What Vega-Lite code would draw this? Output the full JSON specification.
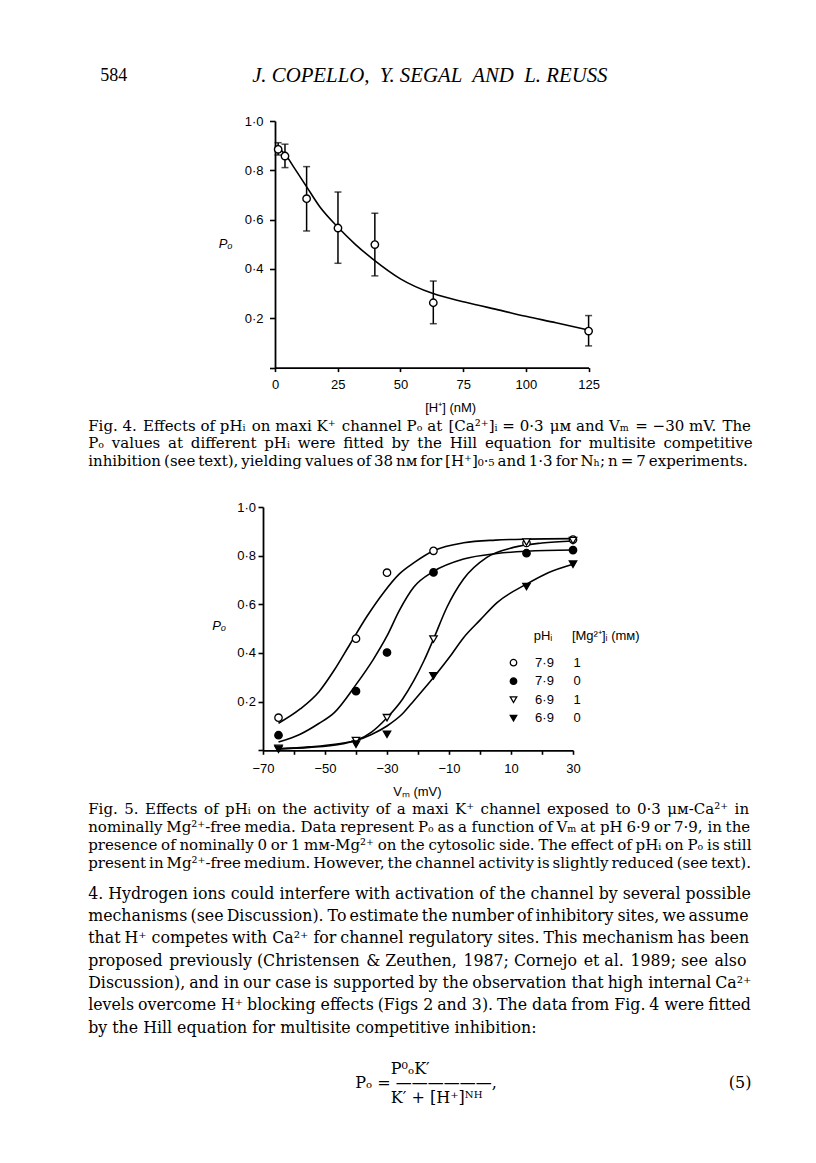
{
  "$schema": "https://vega.github.io/schema/vega-lite/v6.json",
  "background": "white",
  "padding": {"left": 88, "top": 64, "right": 5, "bottom": 5},
  "config": {
    "view": {"stroke": null},
    "axis": {"domainColor": "black", "domainWidth": 1.8, "tickColor": "black", "tickWidth": 1.6, "labelColor": "black", "labelFont": "Liberation Sans", "labelFontSize": 13, "titleFont": "Liberation Sans", "titleFontSize": 13, "titleFontWeight": "normal", "titleColor": "black", "grid": false, "labelOverlap": false, "labelFlush": false},
    "title": {"color": "black", "subtitleColor": "black", "fontWeight": "normal"}
  },
  "datasets": {
    "fig4pts": [
      {"H": 1.26, "Po": 0.885, "lo": 0.862, "hi": 0.912},
      {"H": 3.98, "Po": 0.858, "lo": 0.811, "hi": 0.906},
      {"H": 12.6, "Po": 0.685, "lo": 0.554, "hi": 0.815},
      {"H": 25.1, "Po": 0.566, "lo": 0.423, "hi": 0.712},
      {"H": 39.8, "Po": 0.499, "lo": 0.372, "hi": 0.626},
      {"H": 63.1, "Po": 0.263, "lo": 0.178, "hi": 0.351},
      {"H": 125, "Po": 0.148, "lo": 0.088, "hi": 0.211}
    ],
    "fig4curve": [
      {"H": 0, "Po": 0.9}, {"H": 2, "Po": 0.885}, {"H": 4, "Po": 0.865}, {"H": 8, "Po": 0.805},
      {"H": 12.5, "Po": 0.735}, {"H": 18, "Po": 0.65}, {"H": 25, "Po": 0.57}, {"H": 32, "Po": 0.5},
      {"H": 39, "Po": 0.44}, {"H": 50, "Po": 0.36}, {"H": 63, "Po": 0.3}, {"H": 76, "Po": 0.265},
      {"H": 90, "Po": 0.232}, {"H": 100, "Po": 0.208}, {"H": 112, "Po": 0.182}, {"H": 125, "Po": 0.152}
    ],
    "fig5pts": [
      {"grp": "7.9/1", "V": -65, "Po": 0.134}, {"grp": "7.9/1", "V": -40, "Po": 0.459}, {"grp": "7.9/1", "V": -30, "Po": 0.73},
      {"grp": "7.9/1", "V": -15, "Po": 0.82}, {"grp": "7.9/1", "V": 15, "Po": 0.852}, {"grp": "7.9/1", "V": 30, "Po": 0.866},
      {"grp": "7.9/0", "V": -65, "Po": 0.062}, {"grp": "7.9/0", "V": -40, "Po": 0.243}, {"grp": "7.9/0", "V": -30, "Po": 0.402},
      {"grp": "7.9/0", "V": -15, "Po": 0.731}, {"grp": "7.9/0", "V": 15, "Po": 0.81}, {"grp": "7.9/0", "V": 30, "Po": 0.823},
      {"grp": "6.9/1", "V": -65, "Po": 0.008}, {"grp": "6.9/1", "V": -40, "Po": 0.04}, {"grp": "6.9/1", "V": -30, "Po": 0.134},
      {"grp": "6.9/1", "V": -15, "Po": 0.457}, {"grp": "6.9/1", "V": 15, "Po": 0.856}, {"grp": "6.9/1", "V": 30, "Po": 0.862},
      {"grp": "6.9/0", "V": -65, "Po": 0.004}, {"grp": "6.9/0", "V": -40, "Po": 0.025}, {"grp": "6.9/0", "V": -30, "Po": 0.066},
      {"grp": "6.9/0", "V": -15, "Po": 0.306}, {"grp": "6.9/0", "V": 15, "Po": 0.673}, {"grp": "6.9/0", "V": 30, "Po": 0.765}
    ],
    "fig5curves": [
      {"grp": "7.9/1", "V": -65, "Po": 0.111}, {"grp": "7.9/1", "V": -58, "Po": 0.17}, {"grp": "7.9/1", "V": -52, "Po": 0.24},
      {"grp": "7.9/1", "V": -47, "Po": 0.33}, {"grp": "7.9/1", "V": -42, "Po": 0.435}, {"grp": "7.9/1", "V": -36.5, "Po": 0.55},
      {"grp": "7.9/1", "V": -31, "Po": 0.65}, {"grp": "7.9/1", "V": -26, "Po": 0.725}, {"grp": "7.9/1", "V": -21.4, "Po": 0.77},
      {"grp": "7.9/1", "V": -15, "Po": 0.82}, {"grp": "7.9/1", "V": -5.3, "Po": 0.853}, {"grp": "7.9/1", "V": 5, "Po": 0.864},
      {"grp": "7.9/1", "V": 15, "Po": 0.868}, {"grp": "7.9/1", "V": 30, "Po": 0.87},
      {"grp": "7.9/0", "V": -65, "Po": 0.034}, {"grp": "7.9/0", "V": -58, "Po": 0.066}, {"grp": "7.9/0", "V": -52, "Po": 0.11},
      {"grp": "7.9/0", "V": -47, "Po": 0.155}, {"grp": "7.9/0", "V": -40, "Po": 0.27}, {"grp": "7.9/0", "V": -34.4, "Po": 0.374},
      {"grp": "7.9/0", "V": -30, "Po": 0.47}, {"grp": "7.9/0", "V": -26, "Po": 0.575}, {"grp": "7.9/0", "V": -21.4, "Po": 0.67},
      {"grp": "7.9/0", "V": -15, "Po": 0.735}, {"grp": "7.9/0", "V": -5.3, "Po": 0.786}, {"grp": "7.9/0", "V": 5.5, "Po": 0.809},
      {"grp": "7.9/0", "V": 15, "Po": 0.818}, {"grp": "7.9/0", "V": 30, "Po": 0.823},
      {"grp": "6.9/1", "V": -65, "Po": 0.006}, {"grp": "6.9/1", "V": -55, "Po": 0.012}, {"grp": "6.9/1", "V": -45, "Po": 0.025},
      {"grp": "6.9/1", "V": -40, "Po": 0.04}, {"grp": "6.9/1", "V": -35, "Po": 0.075}, {"grp": "6.9/1", "V": -30, "Po": 0.134},
      {"grp": "6.9/1", "V": -25, "Po": 0.21}, {"grp": "6.9/1", "V": -21.4, "Po": 0.285}, {"grp": "6.9/1", "V": -18, "Po": 0.37},
      {"grp": "6.9/1", "V": -15, "Po": 0.457}, {"grp": "6.9/1", "V": -10.7, "Po": 0.587}, {"grp": "6.9/1", "V": -5.3, "Po": 0.704},
      {"grp": "6.9/1", "V": 2.2, "Po": 0.793}, {"grp": "6.9/1", "V": 10.8, "Po": 0.834}, {"grp": "6.9/1", "V": 20, "Po": 0.852},
      {"grp": "6.9/1", "V": 30, "Po": 0.86},
      {"grp": "6.9/0", "V": -65, "Po": 0.006}, {"grp": "6.9/0", "V": -55, "Po": 0.014}, {"grp": "6.9/0", "V": -45, "Po": 0.028},
      {"grp": "6.9/0", "V": -40, "Po": 0.04}, {"grp": "6.9/0", "V": -35, "Po": 0.065}, {"grp": "6.9/0", "V": -30, "Po": 0.1},
      {"grp": "6.9/0", "V": -25, "Po": 0.15}, {"grp": "6.9/0", "V": -21.4, "Po": 0.203}, {"grp": "6.9/0", "V": -15, "Po": 0.299},
      {"grp": "6.9/0", "V": -10, "Po": 0.38}, {"grp": "6.9/0", "V": -5.3, "Po": 0.463}, {"grp": "6.9/0", "V": 0, "Po": 0.535},
      {"grp": "6.9/0", "V": 5.5, "Po": 0.607}, {"grp": "6.9/0", "V": 15, "Po": 0.683}, {"grp": "6.9/0", "V": 22, "Po": 0.73},
      {"grp": "6.9/0", "V": 30, "Po": 0.765}
    ]
  },
  "spacing": 3,
  "resolve": {"legend": {"shape": "independent", "fill": "independent"}},
  "vconcat": [
    {
      "hconcat": [
        {
          "data": {"values": []},
          "mark": "point",
          "width": 1,
          "height": 1,
          "title": {"text": "584", "orient": "top", "anchor": "start", "frame": "group", "dx": -150.8, "offset": 35.7, "font": "Liberation Serif", "fontSize": 18, "fontWeight": "normal"}
        },
        {
          "width": 313.6,
          "height": 246.6,
          "title": {"text": "J. COPELLO,\u00a0 Y. SEGAL\u00a0 AND\u00a0 L. REUSS", "orient": "top", "anchor": "middle", "frame": "group", "dx": -2, "offset": 28.4, "font": "Liberation Serif", "fontSize": 20.8, "fontStyle": "italic", "fontWeight": "normal"},
          "encoding": {
            "x": {"field": "H", "type": "quantitative", "scale": {"domain": [0, 125], "nice": false},
              "axis": {"values": [0, 25, 50, 75, 100, 125], "format": "d", "title": "[H⁺] (nM)", "titleX": 175.2, "titleY": 40.2, "titleBaseline": "middle", "titleAlign": "center", "titleAngle": 0, "tickSize": 4, "labelPadding": 6.4}}
          },
          "layer": [
            {
              "data": {"name": "fig4curve"},
              "mark": {"type": "line", "color": "black", "strokeWidth": 1.6, "interpolate": "monotone"},
              "encoding": {
                "y": {"field": "Po", "type": "quantitative", "scale": {"domain": [0, 1], "nice": false},
                  "axis": {"values": [0, 0.1, 0.2, 0.3, 0.4, 0.5, 0.6, 0.7, 0.8, 0.9, 1], "labelExpr": "datum.value > 0.05 && round(datum.value * 10) % 2 == 0 ? replace(format(datum.value, '.1f'), '.', '·') : ''", "title": "Pₒ", "titleAngle": 0, "titleX": -49.8, "titleY": 122.8, "titleBaseline": "middle", "titleAlign": "center", "titleFontStyle": "italic", "tickSize": 5.5, "labelPadding": 6.5}}
              }
            },
            {
              "data": {"name": "fig4pts"},
              "mark": {"type": "rule", "color": "black", "strokeWidth": 1.5},
              "encoding": {
                "y": {"field": "lo", "type": "quantitative", "scale": {"domain": [0, 1], "nice": false}},
                "y2": {"field": "hi"}
              }
            },
            {
              "data": {"name": "fig4pts"},
              "mark": {"type": "tick", "orient": "horizontal", "color": "black", "size": 7, "thickness": 1.5},
              "encoding": {"y": {"field": "lo", "type": "quantitative", "scale": {"domain": [0, 1], "nice": false}}}
            },
            {
              "data": {"name": "fig4pts"},
              "mark": {"type": "tick", "orient": "horizontal", "color": "black", "size": 7, "thickness": 1.5},
              "encoding": {"y": {"field": "hi", "type": "quantitative", "scale": {"domain": [0, 1], "nice": false}}}
            },
            {
              "data": {"name": "fig4pts"},
              "mark": {"type": "point", "shape": "circle", "filled": true, "fill": "white", "stroke": "black", "strokeWidth": 1.4, "size": 55, "opacity": 1},
              "encoding": {"y": {"field": "Po", "type": "quantitative", "scale": {"domain": [0, 1], "nice": false}}}
            }
          ]
        }
      ],
      "spacing": 23,
      "bounds": "flush"
    },
    {
      "hconcat": [
        {
          "data": {"values": []},
          "mark": "point",
          "width": 1,
          "height": 1,
          "title": {
            "text": [
              "Fig. 4. \u200aEffects of pHᵢ \u200aon maxi K⁺ \u200achannel Pₒ at \u200a[Ca²⁺]ᵢ = 0·3 \u200aμᴍ and Vₘ \u200a= −30 mV. \u200aThe",
              "Pₒ \u2009values \u2009at \u2009different \u2009pHᵢ \u2009were \u2009fitted \u2009by \u2009the \u2009Hill \u2009equation \u2009for \u2009multisite \u2009competitive",
              "inhibition\u2009(see\u2009text),\u2009yielding\u2009values\u2009of\u200938\u2009nᴍ\u2009for\u2009[H⁺]₀·₅\u2009and\u20091·3\u2009for\u2009Nₕ;\u2009n\u2009=\u20097\u2009experiments."
            ],
            "orient": "top", "anchor": "start", "frame": "group", "dx": -162.8, "offset": 38.1, "font": "DejaVu Serif", "fontSize": 15, "lineHeight": 17.5, "fontWeight": "normal"
          }
        },
        {
          "width": 310,
          "height": 243.3,
          "title": {
            "text": [
              "Fig.\u2004\u200a5.\u2004\u200aEffects\u2004\u200aof\u2004\u200apHᵢ\u2004\u200aon\u2004\u200athe\u2004\u200aactivity\u2004\u200aof\u2004\u200aa\u2004\u200amaxi\u2004\u200aK⁺\u2004\u200achannel\u2004\u200aexposed\u2004\u200ato\u2004\u200a0·3\u2004\u200aμᴍ-Ca²⁺\u2004\u200ain",
              "nominally\u2005Mg²⁺-free\u2005media. Data\u2005represent\u2005Pₒ\u2005as\u2005a function\u2005of\u2005Vₘ\u2005at pH\u20056·9\u2005or\u20057·9, in\u2005the",
              "presence\u2005of\u2005nominally\u20050\u2005or\u20051\u2005mᴍ-Mg²⁺\u2005on\u2005the\u2005cytosolic\u2005side.\u2005The\u2005effect\u2005of\u2005pHᵢ\u2005on\u2005Pₒ\u2005is\u2005still",
              "present\u2009in\u2009Mg²⁺-free\u2009medium.\u2009However,\u2009the\u2009channel\u2009activity\u2009is\u2009slightly\u2009reduced\u2009(see\u2009text)."
            ],
            "subtitle": [
              "4. Hydrogen ions could interfere with activation of the channel by several possible",
              "mechanisms\u2009(see\u2009Discussion).\u2005To\u2009estimate\u2009the\u2005number\u2009of\u2009inhibitory\u2005sites,\u2009we\u2009assume",
              "that\u2005H⁺ competes\u2005with Ca²⁺ for\u2005channel regulatory sites.\u2005This mechanism\u2005has been",
              "proposed \u200apreviously (Christensen \u200a& Zeuthen, \u200a1987; Cornejo \u200aet al. \u200a1989; see \u200aalso",
              "Discussion),\u2005and in\u2005our case\u2005is supported\u2005by the\u2005observation that\u2005high internal\u2005Ca²⁺",
              "levels\u2005overcome H⁺\u2005blocking effects\u2005(Figs 2\u2005and 3).\u2005The data\u2005from Fig.\u20054 were\u2005fitted",
              "by the Hill equation for multisite competitive inhibition:"
            ],
            "orient": "bottom", "anchor": "start", "frame": "group", "dx": -174.8, "offset": 4.3,
            "font": "DejaVu Serif", "fontSize": 15, "lineHeight": 18, "fontWeight": "normal",
            "subtitleFont": "DejaVu Serif", "subtitleFontSize": 15.8, "subtitleLineHeight": 22.33, "subtitlePadding": 15.2
          },
          "encoding": {
            "x": {"field": "V", "type": "quantitative", "scale": {"domain": [-70, 30], "nice": false},
              "axis": {"values": [-70, -60, -50, -40, -30, -20, -10, 0, 10, 20, 30], "labelExpr": "(datum.value + 70) % 20 == 0 ? datum.label : ''", "title": "Vₘ (mV)", "titleX": 153.9, "titleY": 40.8, "titleBaseline": "middle", "titleAlign": "center", "titleAngle": 0, "tickSize": 4, "labelPadding": 8.6}}
          },
          "layer": [
            {
              "data": {"name": "fig5curves"},
              "mark": {"type": "line", "color": "black", "strokeWidth": 1.6, "interpolate": "monotone"},
              "encoding": {
                "detail": {"field": "grp", "type": "nominal"},
                "y": {"field": "Po", "type": "quantitative", "scale": {"domain": [0, 1], "nice": false},
                  "axis": {"values": [0, 0.1, 0.2, 0.3, 0.4, 0.5, 0.6, 0.7, 0.8, 0.9, 1], "labelExpr": "datum.value > 0.05 && round(datum.value * 10) % 2 == 0 ? replace(format(datum.value, '.1f'), '.', '·') : ''", "title": "Pₒ", "titleAngle": 0, "titleX": -44.3, "titleY": 118.8, "titleBaseline": "middle", "titleAlign": "center", "titleFontStyle": "italic", "tickSize": 5, "labelPadding": 2.5}}
              }
            },
            {
              "data": {"name": "fig5pts"},
              "mark": {"type": "point", "filled": true, "stroke": "black", "strokeWidth": 1.3, "size": 55, "opacity": 1},
              "encoding": {
                "y": {"field": "Po", "type": "quantitative", "scale": {"domain": [0, 1], "nice": false}},
                "shape": {"field": "grp", "type": "nominal", "scale": {"domain": ["7.9/1", "7.9/0", "6.9/1", "6.9/0"], "range": ["circle", "circle", "triangle-down", "triangle-down"]},
                  "legend": {"orient": "none", "legendX": 244, "legendY": 122.5, "padding": 0, "title": "\u200b\u2003\u2002\u00a0\u00a0pHᵢ\u2003\u2002[Mg²⁺]ᵢ (mᴍ)", "titleFont": "Liberation Sans", "titleFontSize": 13, "titleFontWeight": "normal", "titleColor": "black", "titlePadding": 13.7, "labelFont": "Liberation Sans", "labelFontSize": 13, "labelColor": "black", "labelOffset": 15.1, "rowPadding": 4.5, "symbolSize": 42, "symbolStrokeWidth": 1.3, "symbolStrokeColor": "black", "symbolOpacity": 1, "labelExpr": "replace(replace(datum.value, '.', '·'), '/', '\u2003\u2002')",
                    "encode": {"symbols": {"update": {"stroke": {"value": "black"}, "strokeWidth": {"value": 1.3}}}}}},
                "fill": {"field": "grp", "type": "nominal", "scale": {"domain": ["7.9/1", "7.9/0", "6.9/1", "6.9/0"], "range": ["white", "black", "white", "black"]},
                  "legend": {"orient": "none", "legendX": 244, "legendY": 122.5, "padding": 0, "title": "\u200b\u2003\u2002\u00a0\u00a0pHᵢ\u2003\u2002[Mg²⁺]ᵢ (mᴍ)", "titleFont": "Liberation Sans", "titleFontSize": 13, "titleFontWeight": "normal", "titleColor": "black", "titlePadding": 13.7, "labelFont": "Liberation Sans", "labelFontSize": 13, "labelColor": "black", "labelOffset": 15.1, "rowPadding": 4.5, "symbolSize": 42, "symbolStrokeWidth": 1.3, "symbolStrokeColor": "black", "symbolOpacity": 1, "labelExpr": "replace(replace(datum.value, '.', '·'), '/', '\u2003\u2002')",
                    "encode": {"symbols": {"update": {"stroke": {"value": "black"}, "strokeWidth": {"value": 1.3}}}}}}
              }
            }
          ]
        }
      ],
      "spacing": 11,
      "bounds": "flush",
      "resolve": {"legend": {"shape": "independent", "fill": "independent"}}
    },
    {
      "data": {"values": []},
      "mark": "point",
      "width": 1,
      "height": 1,
      "title": {
        "text": [
          "\u200b\u00a0\u00a0\u00a0\u00a0\u00a0\u00a0\u00a0P⁰ₒK′",
          "Pₒ = ——————,\u2003\u2003\u2003\u2003\u2003\u2003\u2003\u2003\u2003\u2003\u2003\u2003\u2003\u2003\u2002(5)",
          "\u200b\u00a0\u00a0\u00a0\u00a0\u00a0\u00a0\u00a0K′ + [H⁺]ᴺᴴ"
        ],
        "orient": "bottom", "anchor": "start", "frame": "group", "dx": 104.2, "offset": 20.8, "font": "DejaVu Serif", "fontSize": 16, "lineHeight": 14.5, "fontWeight": "normal"
      }
    }
  ]
}
